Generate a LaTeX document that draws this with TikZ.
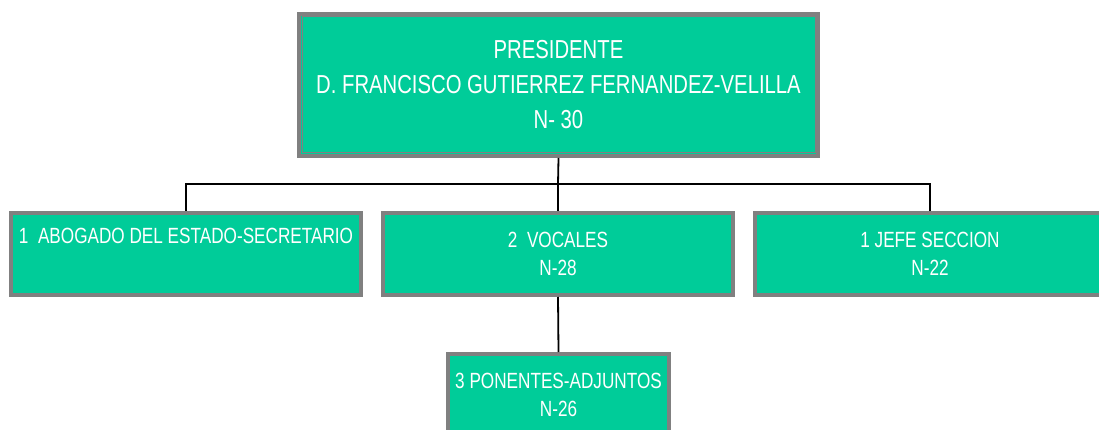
\documentclass[tikz,border=0pt]{standalone}
\usepackage{fontspec}
\newfontfamily\narrowsans{Liberation Sans}[FakeStretch=0.78]
\definecolor{boxgreen}{RGB}{0,204,153}
\definecolor{boxgray}{RGB}{128,128,128}
\tikzset{
  orgbox/.style={draw=boxgray, fill=boxgreen, line width=4pt, text=white,
    align=center, inner sep=0pt},
  topbox/.style={orgbox, minimum width=519pt, minimum height=142pt,
    font=\narrowsans\fontsize{26}{35}\selectfont},
  lowbox/.style={orgbox, minimum width=350pt, minimum height=82pt,
    font=\narrowsans\fontsize{22}{28}\selectfont},
  smallbox/.style={orgbox, minimum width=221pt, minimum height=82pt,
    font=\narrowsans\fontsize{22}{28}\selectfont},
  conn/.style={draw=black, line width=1.8pt}
}
\begin{document}
\begin{tikzpicture}[x=1pt,y=-1pt]
\clip (0,0) rectangle (1099,430);
\fill[white] (0,0) rectangle (1099,430);
\node[topbox] (pres) at (558.5,85) {PRESIDENTE\\D. FRANCISCO GUTIERREZ FERNANDEZ-VELILLA\\N- 30};
\draw[boxgray, line width=1pt] ([xshift=5pt,yshift=-5pt]pres.north west) rectangle ([xshift=-5pt,yshift=5pt]pres.south east);
\node[lowbox] (abog) at (186,254) {1~ ABOGADO DEL ESTADO-SECRETARIO\\\strut};
\node[lowbox] (voc) at (558,254) {2 \ VOCALES\\N-28};
\node[lowbox] (jefe) at (930,254) {1 JEFE SECCION\\N-22};
\node[smallbox] (pon) at (558.5,395) {3 PONENTES-ADJUNTOS\\N-26};
\coordinate (bus) at (558,184);
\draw[conn] (pres.south) -- (bus);
\draw[conn] (abog.north) -- (abog.north |- bus) -- (jefe.north |- bus) -- (jefe.north);
\draw[conn] (voc.north) -- (voc.north |- bus);
\draw[conn] (voc.south) -- (pon.north);
\end{tikzpicture}
\end{document}
